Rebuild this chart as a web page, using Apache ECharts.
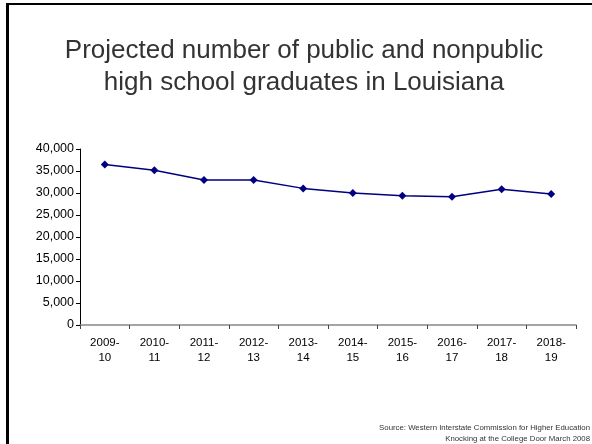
<!DOCTYPE html>
<html>
<head>
<meta charset="utf-8">
<script src="https://cdn.jsdelivr.net/npm/echarts@6/dist/echarts.min.js"></script>
<style>
  html, body { margin: 0; padding: 0; background: #fff; }
  #chart { width: 592px; height: 444px; }
</style>
</head>
<body>
<div id="chart"></div>
<script>
const years = ["2009-\n10", "2010-\n11", "2011-\n12", "2012-\n13", "2013-\n14",
               "2014-\n15", "2015-\n16", "2016-\n17", "2017-\n18", "2018-\n19"];
const graduates = [36500, 35150, 32950, 32950, 31050, 30000, 29400, 29150, 30850, 29750];

const FONT = "Liberation Sans, Arial, sans-serif";
const chart = echarts.init(document.getElementById("chart"));

chart.setOption({
    backgroundColor: "#fff",
    animation: false,
    textStyle: { fontFamily: FONT },

    title: {
        text: "Projected number of public and nonpublic\nhigh school graduates in Louisiana",
        left: 299,
        textAlign: "center",
        top: 30,
        textStyle: {
            fontSize: 26,
            fontWeight: "normal",
            color: "#333",
            lineHeight: 32,
            fontFamily: FONT
        }
    },

    graphic: [
        // slide frame: left and top edges
        { type: "rect", shape: { x: 6, y: 3, width: 3, height: 441 }, style: { fill: "#000" } },
        { type: "rect", shape: { x: 6, y: 3, width: 586, height: 2 }, style: { fill: "#000" } },
        {
            type: "text", x: 590, y: 428,
            style: {
                text: "Source: Western Interstate Commission for Higher Education",
                align: "right", verticalAlign: "middle",
                fontSize: 7.8, fill: "#333", fontFamily: FONT
            }
        },
        {
            type: "text", x: 590, y: 439,
            style: {
                text: "Knocking at the College Door March 2008",
                align: "right", verticalAlign: "middle",
                fontSize: 7.8, fill: "#333", fontFamily: FONT
            }
        }
    ],

    grid: { left: 80, right: 16, top: 149, bottom: 119, containLabel: false },

    xAxis: {
        type: "category",
        data: years,
        boundaryGap: true,
        axisLine: { lineStyle: { color: "#888", width: 1.5 } },
        axisTick: { show: true, alignWithLabel: false, length: 4, lineStyle: { color: "#444" } },
        axisLabel: { color: "#000", fontSize: 11.5, lineHeight: 15, margin: 10, interval: 0 }
    },

    yAxis: {
        type: "value",
        min: 0,
        max: 40000,
        interval: 5000,
        axisLine: { show: true, lineStyle: { color: "#000" } },
        axisTick: { show: true, length: 4, lineStyle: { color: "#000" } },
        splitLine: { show: false },
        axisLabel: {
            color: "#000",
            fontSize: 12.5,
            margin: 6,
            formatter: v => v.toLocaleString("en-US")
        }
    },

    series: [{
        name: "Graduates",
        type: "line",
        data: graduates,
        symbol: "diamond",
        symbolSize: 8,
        lineStyle: { color: "#000080", width: 1.5 },
        itemStyle: { color: "#000080" }
    }]
});
</script>
</body>
</html>
